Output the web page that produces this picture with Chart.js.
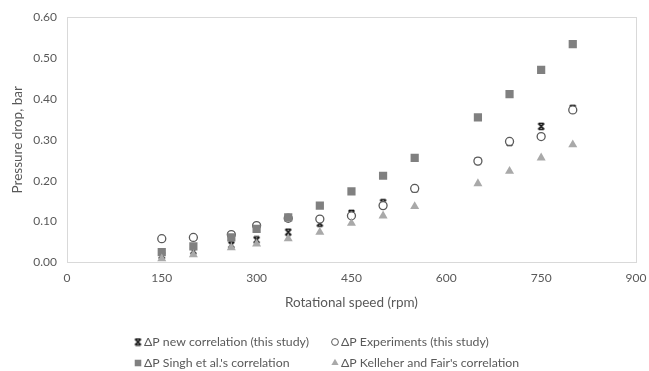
<!DOCTYPE html>
<html>
<head>
<meta charset="utf-8">
<script src="https://cdn.jsdelivr.net/npm/chart.js@4"></script>
<style>
  html, body { margin: 0; padding: 0; background: #fff; }
  #wrap { width: 649px; height: 371px; position: relative; }
</style>
</head>
<body>
<div id="wrap"><canvas id="chart" width="649" height="371"></canvas></div>
<script>
/* ---------------- data ---------------- */
var speeds = [150, 200, 260, 300, 350, 400, 450, 500, 550, 650, 700, 750, 800];
var dpNewCorrelation = [0.017, 0.028, 0.043, 0.055, 0.074, 0.096, 0.120, 0.146, 0.180, 0.248, 0.294, 0.333, 0.377];
var dpExperiments    = [0.058, 0.061, 0.068, 0.090, 0.108, 0.106, 0.114, 0.139, 0.181, 0.248, 0.296, 0.308, 0.373];
var dpSingh          = [0.025, 0.039, 0.061, 0.082, 0.110, 0.139, 0.174, 0.212, 0.256, 0.355, 0.412, 0.471, 0.534];
var dpKelleher       = [0.009, 0.019, 0.036, 0.045, 0.058, 0.074, 0.096, 0.114, 0.137, 0.193, 0.223, 0.256, 0.288];
var seriesNames = [
    "ΔP new correlation (this study)",
    "ΔP Experiments (this study)",
    "ΔP Singh et al.'s correlation",
    "ΔP Kelleher and Fair's correlation"
];
var xTicks = [0, 150, 300, 450, 600, 750, 900];
var yTicks = [0, 0.1, 0.2, 0.3, 0.4, 0.5, 0.6];

/* ---------------- styles ---------------- */
var FONT = 'Lato, "Open Sans", sans-serif';
var TEXT = '#595959';

// star marker like the spreadsheet one: an X with short caps top and bottom
function makeStar(size) {
    var c = document.createElement('canvas');
    c.width = size; c.height = size;
    var g = c.getContext('2d');
    var m = 1.5, e = size - 1.5;
    g.strokeStyle = '#111111';
    g.lineWidth = 1.7;
    g.beginPath();
    g.moveTo(m, m); g.lineTo(e, e);
    g.moveTo(e, m); g.lineTo(m, e);
    g.moveTo(m + 0.5, m); g.lineTo(e - 0.5, m);
    g.moveTo(m + 0.5, e); g.lineTo(e - 0.5, e);
    g.stroke();
    return c;
}
var starImg = makeStar(9);

function toPoints(vals) {
    return speeds.map((s, i) => ({ x: s, y: vals[i] }));
}

var markers = [
    { pointStyle: starImg, backgroundColor: '#111111', borderColor: '#111111', borderWidth: 1, radius: 4.5 },
    { pointStyle: 'circle', backgroundColor: '#ffffff', borderColor: '#5a5a5a', borderWidth: 1.3, radius: 4 },
    { pointStyle: 'rect', backgroundColor: '#808080', borderColor: '#808080', borderWidth: 0, radius: 5.8 },
    { pointStyle: 'triangle', backgroundColor: '#a9a9a9', borderColor: '#a9a9a9', borderWidth: 0, radius: 5.2 }
];
var seriesValues = [dpNewCorrelation, dpExperiments, dpSingh, dpKelleher];
var drawOrder = [3, 2, 1, 0];

var datasets = seriesValues.map((vals, i) => ({
    label: seriesNames[i],
    data: toPoints(vals),
    showLine: false,
    pointStyle: markers[i].pointStyle,
    pointRadius: markers[i].radius,
    pointHoverRadius: markers[i].radius,
    pointBackgroundColor: markers[i].backgroundColor,
    pointBorderColor: markers[i].borderColor,
    pointBorderWidth: markers[i].borderWidth,
    order: drawOrder[i]
}));

/* ---------------- plot frame + legend ---------------- */
var framePlugin = {
    id: 'frame',
    beforeDatasetsDraw(chart) {
        var a = chart.chartArea, ctx = chart.ctx;
        ctx.save();
        ctx.strokeStyle = '#d9d9d9';
        ctx.lineWidth = 1;
        ctx.strokeRect(Math.round(a.left) + 0.5, Math.round(a.top) + 0.5,
                       Math.round(a.right - a.left), Math.round(a.bottom - a.top));
        ctx.restore();
    }
};

var legendPos = [[138, 342], [335, 342], [138, 363], [335, 363]];
var legendPlugin = {
    id: 'gridLegend',
    afterDraw(chart) {
        var ctx = chart.ctx;
        ctx.save();
        ctx.font = '12.3px ' + FONT;
        ctx.textBaseline = 'middle';
        seriesNames.forEach((name, i) => {
            var p = legendPos[i], mk = markers[i];
            ctx.fillStyle = mk.backgroundColor;
            ctx.strokeStyle = mk.borderColor;
            var r = mk.pointStyle === 'circle' ? 3.4 : mk.radius * 0.8;
            Chart.helpers.drawPoint(ctx, {
                pointStyle: mk.pointStyle, radius: r, rotation: 0, borderWidth: mk.borderWidth
            }, p[0], p[1]);
            ctx.fillStyle = TEXT;
            ctx.fillText(name, p[0] + 6, p[1] + 0.5);
        });
        ctx.restore();
    }
};

/* ---------------- chart ---------------- */
new Chart(document.getElementById('chart'), {
    type: 'scatter',
    data: { datasets: datasets },
    plugins: [framePlugin, legendPlugin],
    options: {
        responsive: false,
        animation: false,
        layout: { padding: { left: 4, right: 13, top: 6, bottom: 60 } },
        plugins: {
            legend: { display: false },
            tooltip: { enabled: false }
        },
        scales: {
            x: {
                type: 'linear',
                min: 0, max: 900,
                afterBuildTicks: (axis) => { axis.ticks = xTicks.map(v => ({ value: v })); },
                afterFit: (axis) => { axis.paddingRight = 0; },
                grid: { display: false, drawTicks: false },
                border: { display: false },
                ticks: { color: TEXT, font: { family: FONT, size: 12 }, padding: 9, maxRotation: 0 },
                title: { display: true, text: 'Rotational speed (rpm)', color: TEXT,
                         font: { family: FONT, size: 13.5 }, padding: { top: 0, bottom: 0 } }
            },
            y: {
                min: 0, max: 0.6,
                afterBuildTicks: (axis) => { axis.ticks = yTicks.map(v => ({ value: v })); },
                grid: { display: false, drawTicks: false },
                border: { display: false },
                ticks: { color: TEXT, font: { family: FONT, size: 12 }, padding: 10,
                         callback: (v) => v.toFixed(2) },
                title: { display: true, text: 'Pressure drop, bar', color: TEXT,
                         font: { family: FONT, size: 13.5 }, padding: { top: 6, bottom: -3 } }
            }
        }
    }
});
</script>
</body>
</html>
